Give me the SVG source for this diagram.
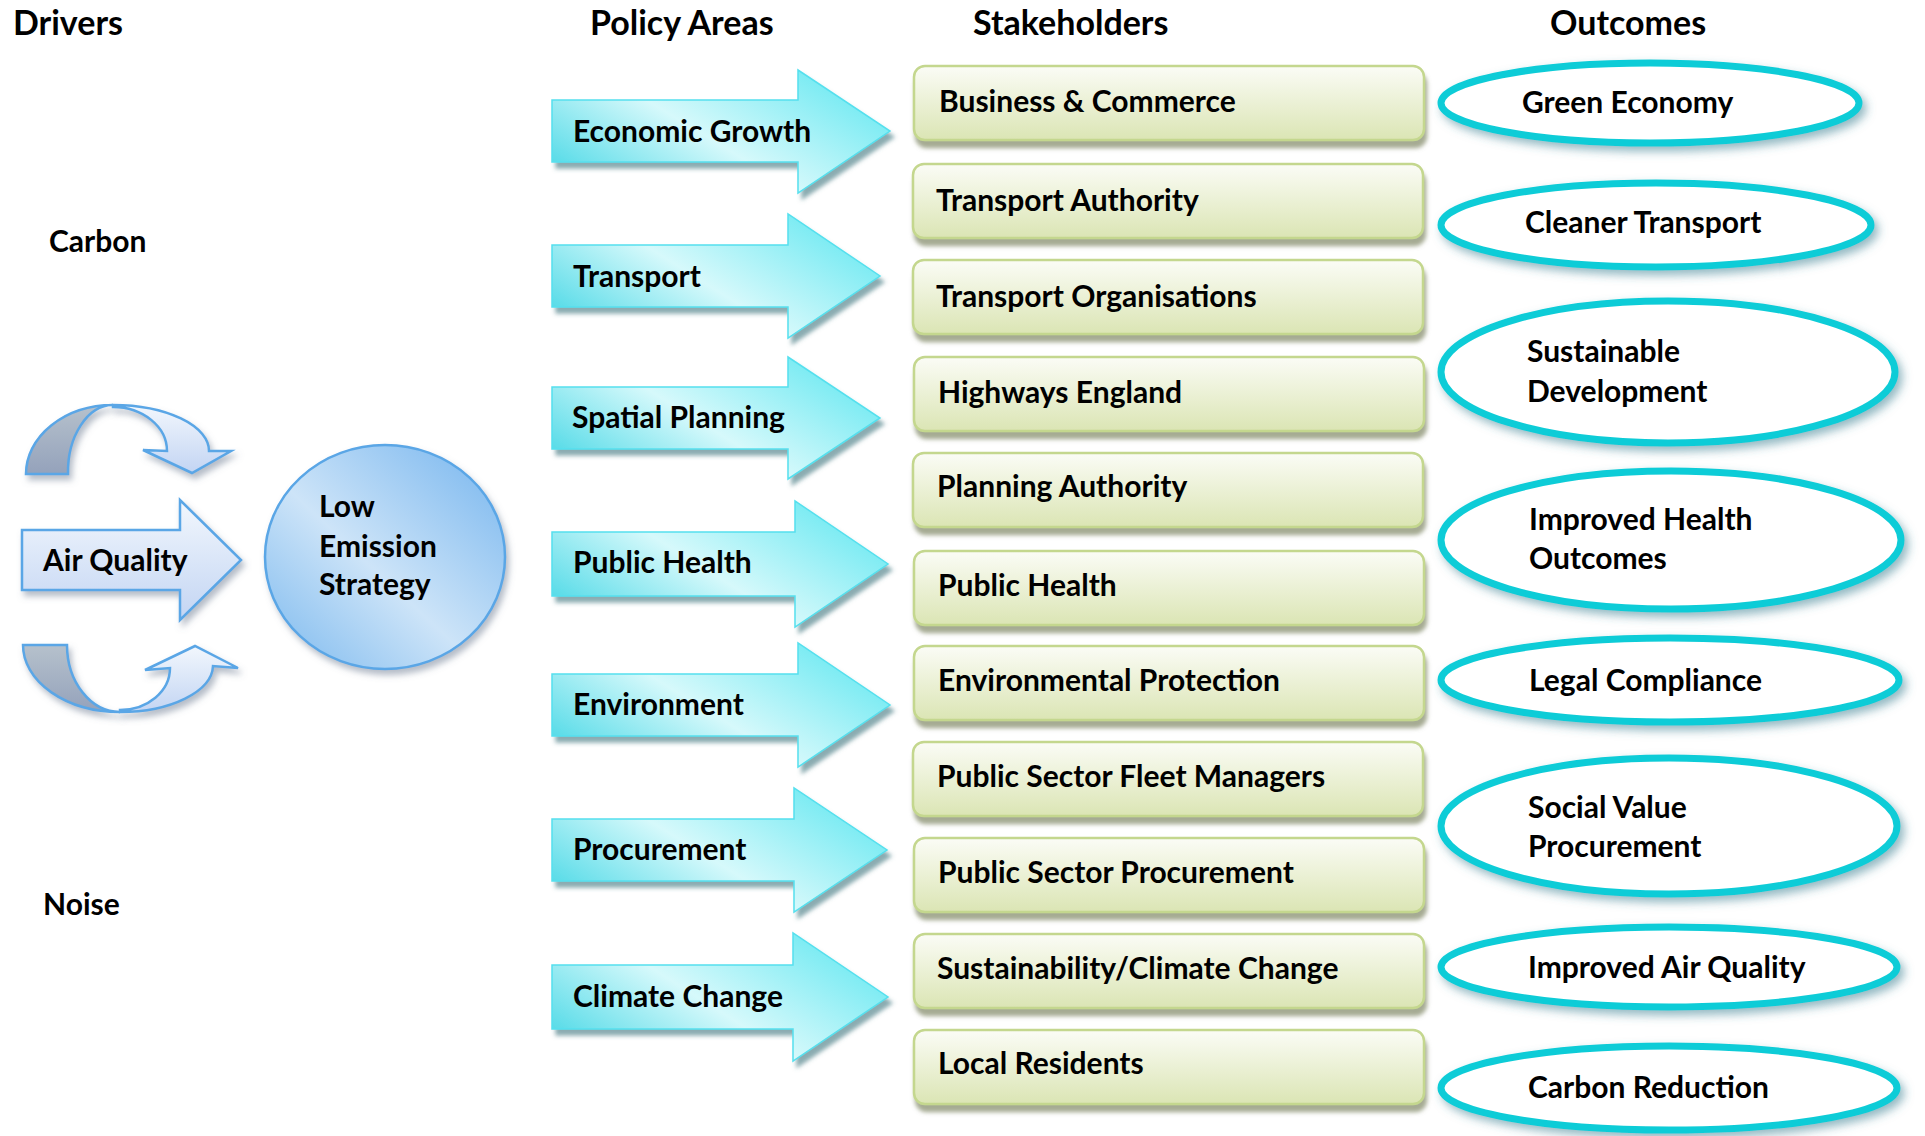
<svg xmlns="http://www.w3.org/2000/svg" width="1925" height="1136" viewBox="0 0 1925 1136">
<style>
text{font-family:Lato,"Liberation Sans",sans-serif;font-weight:700;font-size:30px;fill:#000}
.hd{font-size:34px}
.pa{fill:url(#gPolicy);stroke:#55e0ee;stroke-width:1.5;filter:url(#shPolicy)}
.sb{fill:url(#gStake);stroke:#c4d78e;stroke-width:2.5;filter:url(#shStake)}
.oc{fill:#fff;stroke:#10ccd7;stroke-width:7;filter:url(#shOut)}
.bl{stroke:#5aa6e6;stroke-width:2.5;filter:url(#shBlue)}
</style>
<defs>
<linearGradient id="gPolicy" x1="0" y1="0.8" x2="1" y2="0.2">
<stop offset="0" stop-color="#52dae7"/>
<stop offset="0.45" stop-color="#d6f9fb"/>
<stop offset="1" stop-color="#66e8f1"/>
</linearGradient>
<linearGradient id="gStake" x1="0" y1="0" x2="0" y2="1">
<stop offset="0" stop-color="#fbfcf6"/>
<stop offset="1" stop-color="#dbe5b4"/>
</linearGradient>
<linearGradient id="gAir" x1="0" y1="0" x2="0" y2="1">
<stop offset="0" stop-color="#f2f7fd"/>
<stop offset="1" stop-color="#c3d5f3"/>
</linearGradient>
<linearGradient id="gGray" x1="0" y1="0" x2="0" y2="1">
<stop offset="0" stop-color="#b6c1cc"/>
<stop offset="1" stop-color="#94a2bb"/>
</linearGradient>
<linearGradient id="gCircle" x1="1" y1="0" x2="0" y2="1">
<stop offset="0" stop-color="#74b4ee"/>
<stop offset="0.55" stop-color="#cde4f8"/>
<stop offset="1" stop-color="#7ab8ee"/>
</linearGradient>
<filter id="shPolicy" x="-10%" y="-20%" width="130%" height="150%">
<feDropShadow dx="4" dy="6" stdDeviation="2" flood-color="#4d7f86" flood-opacity="0.65"/>
</filter>
<filter id="shStake" x="-5%" y="-20%" width="115%" height="160%">
<feDropShadow dx="2" dy="7" stdDeviation="2" flood-color="#8f9578" flood-opacity="0.8"/>
</filter>
<filter id="shOut" x="-10%" y="-30%" width="125%" height="170%">
<feDropShadow dx="4" dy="5" stdDeviation="5" flood-color="#3b7f92" flood-opacity="0.55"/>
</filter>
<filter id="shBlue" x="-15%" y="-15%" width="140%" height="140%">
<feDropShadow dx="3" dy="5" stdDeviation="3" flood-color="#6b7a90" flood-opacity="0.5"/>
</filter>
</defs>

<g id="headers">
<text class="hd" x="13" y="35">Drivers</text>
<text class="hd" x="590" y="35">Policy Areas</text>
<text class="hd" x="973" y="35">Stakeholders</text>
<text class="hd" x="1550" y="35">Outcomes</text>
</g>

<g id="drivers">
<g id="driver-carbon"><text x="49" y="252">Carbon</text></g>
<g id="driver-noise"><text x="43" y="915">Noise</text></g>
<g id="cycle-top">
<path class="bl" fill="url(#gGray)" d="M26,474 A87,69 0 0 1 113,405 A45,67 0 0 0 68,474 Z"/>
<path class="bl" fill="url(#gAir)" d="M113,405 A96,46 0 0 1 209,451 L231,451 L192,473 L143,450 L167,451 A54,44 0 0 0 113,407 Z"/>
</g>
<g id="cycle-bottom">
<path class="bl" fill="url(#gGray)" d="M23,645 A97,67 0 0 0 120,712 A53,67 0 0 1 67,645 Z"/>
<path class="bl" fill="url(#gAir)" d="M120,712 A93,47 0 0 0 213,666 L238,668 L195,646 L145,670 L170,668 A50,42 0 0 1 120,710 Z"/>
</g>
<g id="driver-air-quality">
<path class="bl" fill="url(#gAir)" d="M22,530 H180 V500 L241,560 L180,620 V590 H22 Z"/>
<text x="43" y="571">Air Quality</text>
</g>
<g id="low-emission-strategy">
<ellipse class="bl" fill="url(#gCircle)" cx="385" cy="557" rx="120" ry="112"/>
<text x="319" y="517">Low</text>
<text x="319" y="557">Emission</text>
<text x="319" y="595">Strategy</text>
</g>
</g>

<g id="policy-areas">
<g id="pa-economic-growth"><path class="pa" d="M552,100 H798 V70 L890,131 L798,193 V162 H552 Z"/><text x="573" y="142">Economic Growth</text></g>
<g id="pa-transport"><path class="pa" d="M552,245 H788 V214 L880,276 L788,338 V307 H552 Z"/><text x="573" y="287">Transport</text></g>
<g id="pa-spatial-planning"><path class="pa" d="M552,387 H788 V357 L880,418 L788,479 V449 H552 Z"/><text x="572" y="428">Spatial Planning</text></g>
<g id="pa-public-health"><path class="pa" d="M552,532 H795 V501 L888,564 L795,627 V596 H552 Z"/><text x="573" y="573">Public Health</text></g>
<g id="pa-environment"><path class="pa" d="M552,674 H798 V643 L890,705 L798,767 V736 H552 Z"/><text x="573" y="715">Environment</text></g>
<g id="pa-procurement"><path class="pa" d="M552,819 H794 V788 L887,850 L794,912 V881 H552 Z"/><text x="573" y="860">Procurement</text></g>
<g id="pa-climate-change"><path class="pa" d="M552,965 H793 V933 L888,997 L793,1061 V1029 H552 Z"/><text x="573" y="1007">Climate Change</text></g>
</g>

<g id="stakeholders">
<g id="sh-business"><rect class="sb" x="914" y="66" width="510" height="74" rx="11"/><text x="939" y="112">Business &amp; Commerce</text></g>
<g id="sh-transport-authority"><rect class="sb" x="913" y="164" width="510" height="74" rx="11"/><text x="936" y="211">Transport Authority</text></g>
<g id="sh-transport-organisations"><rect class="sb" x="913" y="260" width="510" height="74" rx="11"/><text x="936" y="307">Transport Organisations</text></g>
<g id="sh-highways"><rect class="sb" x="914" y="357" width="510" height="74" rx="11"/><text x="938" y="403">Highways England</text></g>
<g id="sh-planning"><rect class="sb" x="913" y="453" width="510" height="74" rx="11"/><text x="937" y="497">Planning Authority</text></g>
<g id="sh-public-health"><rect class="sb" x="914" y="551" width="510" height="74" rx="11"/><text x="938" y="596">Public Health</text></g>
<g id="sh-environmental"><rect class="sb" x="914" y="646" width="510" height="74" rx="11"/><text x="938" y="691">Environmental Protection</text></g>
<g id="sh-fleet"><rect class="sb" x="913" y="742" width="510" height="74" rx="11"/><text x="937" y="787">Public Sector Fleet Managers</text></g>
<g id="sh-procurement"><rect class="sb" x="914" y="838" width="510" height="74" rx="11"/><text x="938" y="883">Public Sector Procurement</text></g>
<g id="sh-sustainability"><rect class="sb" x="914" y="934" width="510" height="74" rx="11"/><text x="937" y="979">Sustainability/Climate Change</text></g>
<g id="sh-local-residents"><rect class="sb" x="914" y="1030" width="510" height="74" rx="11"/><text x="938" y="1074">Local Residents</text></g>
</g>

<g id="outcomes">
<g id="oc-green-economy"><ellipse class="oc" cx="1650" cy="103" rx="209" ry="40"/><text x="1522" y="113">Green Economy</text></g>
<g id="oc-cleaner-transport"><ellipse class="oc" cx="1656" cy="225" rx="215" ry="42"/><text x="1525" y="233">Cleaner Transport</text></g>
<g id="oc-sustainable-development"><ellipse class="oc" cx="1668" cy="372" rx="227" ry="71"/><text x="1527" y="362">Sustainable</text><text x="1527" y="402">Development</text></g>
<g id="oc-improved-health"><ellipse class="oc" cx="1671" cy="540" rx="230" ry="69"/><text x="1529" y="530">Improved Health</text><text x="1529" y="569">Outcomes</text></g>
<g id="oc-legal-compliance"><ellipse class="oc" cx="1670" cy="680" rx="229" ry="42"/><text x="1529" y="691">Legal Compliance</text></g>
<g id="oc-social-value"><ellipse class="oc" cx="1669" cy="826" rx="228" ry="68"/><text x="1528" y="818">Social Value</text><text x="1528" y="857">Procurement</text></g>
<g id="oc-improved-air-quality"><ellipse class="oc" cx="1669" cy="967" rx="228" ry="40"/><text x="1528" y="978">Improved Air Quality</text></g>
<g id="oc-carbon-reduction"><ellipse class="oc" cx="1669" cy="1088" rx="228" ry="42"/><text x="1528" y="1098">Carbon Reduction</text></g>
</g>

<g id="connectors"></g>
</svg>
